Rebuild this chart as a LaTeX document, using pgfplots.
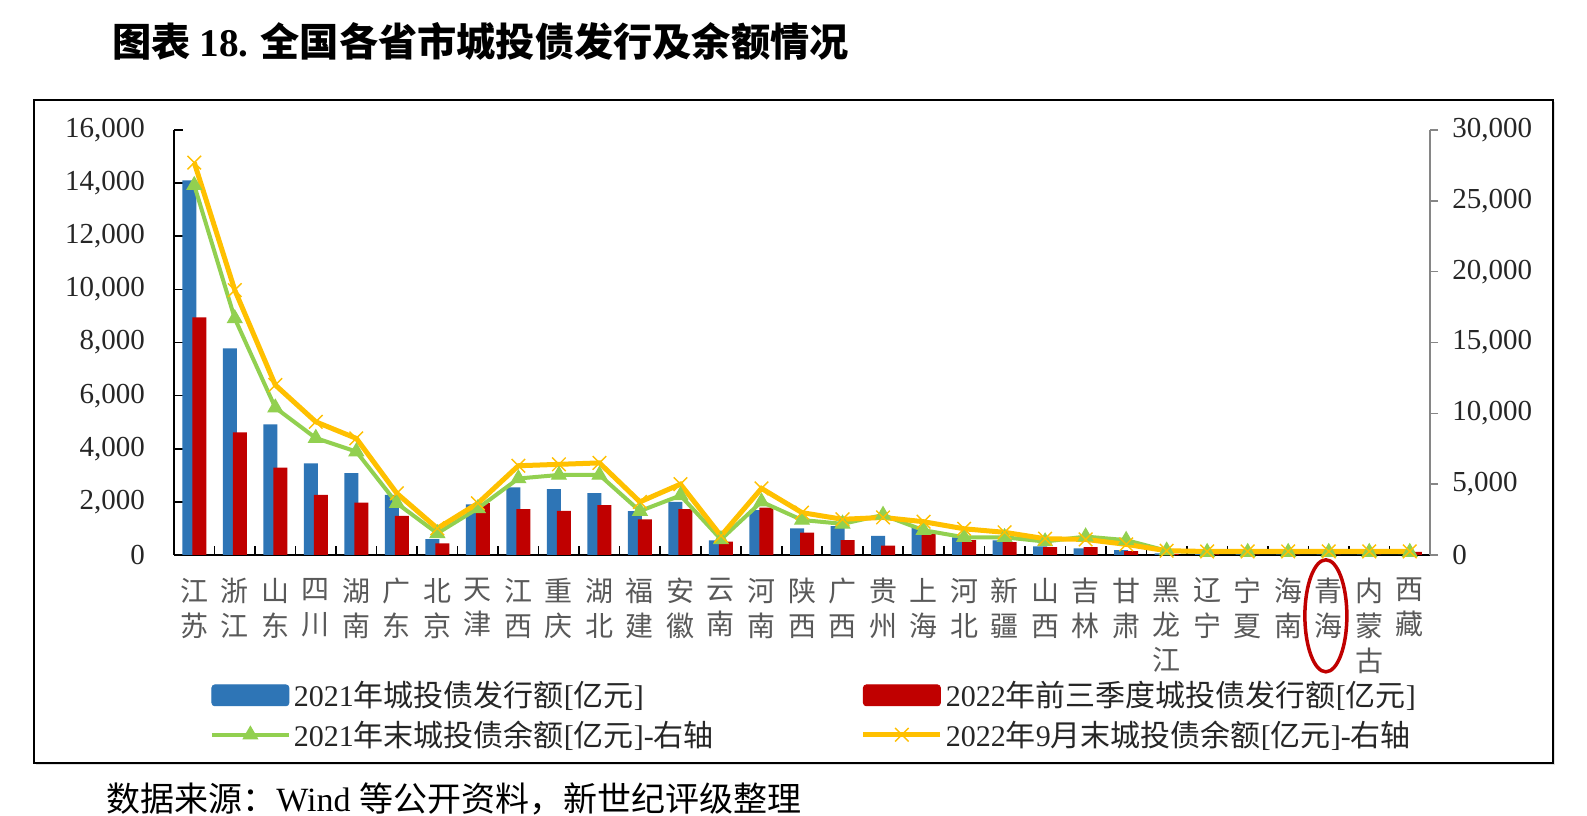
\documentclass[border=0pt]{standalone}
\usepackage{pgfplots}
\usepackage{pgfplotstable}
\pgfplotsset{compat=1.18}
\usepackage{fontspec}
\setmainfont{Liberation Serif}
\newfontfamily\cjk{Noto Sans CJK SC}
\usetikzlibrary{shadows}

\definecolor{barblue}{HTML}{2E75B6}
\definecolor{barred}{HTML}{C00000}
\definecolor{lngreen}{HTML}{92D050}
\definecolor{lnyellow}{HTML}{FFC000}
\definecolor{axgray}{HTML}{868686}
\definecolor{labgray}{HTML}{595959}

\pgfplotsset{
  wide line legend/.style={legend image code/.code={%
    \draw[mark repeat=2,mark phase=2,##1] plot coordinates {(0bp,0bp) (19.25bp,0bp) (38.5bp,0bp)};}},
}

% idx: province order; issue = bond issuance (left axis), bal = outstanding balance (right axis)
\pgfplotstableread{
idx issue21 issue22 bal21 bal22
0  14100 8950 26100 27700
1  7780  4620 16700 18700
2  4920  3290 10400 12000
3  3450  2260 8250  9400
4  3080  1970 7300  8230
5  2260  1470 3650  4350
6  600   440  1530  1880
7  1910  1950 3290  3650
8  2550  1730 5400  6300
9  2480  1660 5650  6400
10 2330  1880 5650  6500
11 1650  1340 3100  3750
12 2000  1730 4200  5000
13 550   500  1100  1350
14 1690  1780 3760  4700
15 1000  840  2470  2990
16 1090  560  2200  2520
17 720   350  2820  2650
18 1050  800  1750  2350
19 660   560  1250  1850
20 550   480  1250  1600
21 320   300  950   1150
22 250   300  1300  1100
23 180   150  1050  750
24 60    40   300   300
25 30    20   200   250
26 20    15   200   250
27 15    10   200   250
28 10    10   200   250
29 10    15   200   250
30 0     120  200   250
}\datatable

\begin{document}
\begin{tikzpicture}
\path[use as bounding box] (0,0) rectangle (793.5bp,408bp);

% outer frame
\draw[black, line width=1bp, fill=white,
      drop shadow={shadow xshift=1.2bp, shadow yshift=-1.2bp, opacity=0.25}]
  (17bp,26.5bp) rectangle (776.5bp,358bp);

% caption and source line
\node[anchor=west, inner sep=0] at (56bp,387.5bp)
  {\cjk\bfseries\fontsize{19.6bp}{22bp}\selectfont 图表 {\rmfamily\bfseries 18.} 全国各省市城投债发行及余额情况};
\node[anchor=west, inner sep=0] at (53bp,8.5bp)
  {\fontsize{17bp}{20bp}\selectfont {\cjk 数据来源：}Wind {\cjk 等公开资料，新世纪评级整理}};

% issuance bars, left axis
\begin{axis}[
  at={(87bp,130.5bp)}, anchor=south west,
  scale only axis, width=628bp, height=212.5bp,
  xmin=-0.5, xmax=30.5, ymin=0, ymax=16000,
  axis y line*=left, axis x line*=bottom,
  x axis line style={black, line width=1.2bp},
  y axis line style={black, line width=0.8bp},
  tick align=inside, major tick length=4.5bp,
  every tick/.style={black, line width=0.8bp},
  ytick={0,2000,...,16000},
  scaled y ticks=false,
  /pgf/number format/assume math mode=true,
  /pgf/number format/1000 sep={,},
  yticklabel style={font=\fontsize{14.5bp}{16bp}\selectfont, text=black!85, xshift=-11bp},
  xtick={-0.5,0.5,...,30.5},
  x tick label as interval,
  xticklabels={{江\\苏},{浙\\江},{山\\东},{四\\川},{湖\\南},{广\\东},{北\\京},{天\\津},{江\\西},{重\\庆},{湖\\北},{福\\建},{安\\徽},{云\\南},{河\\南},{陕\\西},{广\\西},{贵\\州},{上\\海},{河\\北},{新\\疆},{山\\西},{吉\\林},{甘\\肃},{黑\\龙\\江},{辽\\宁},{宁\\夏},{海\\南},{青\\海},{内\\蒙\\古},{西\\藏}},
  xticklabel style={font=\cjk\fontsize{14bp}{17.6bp}\selectfont, text=labgray, align=center, anchor=north, yshift=-8bp},
  clip=false,
]
\addplot[ybar, bar width=7bp, bar shift=-2.5bp, fill=barblue, draw=none] table[x=idx, y=issue21] {\datatable};
\addplot[ybar, bar width=7bp, bar shift=2.5bp, fill=barred, draw=none] table[x=idx, y=issue22] {\datatable};
\draw[barred, line width=1.75bp] (axis cs:27.93,-2290) ellipse [x radius=10.5bp, y radius=28bp];
\end{axis}

% outstanding balance lines, right axis
\begin{axis}[
  at={(87bp,130.5bp)}, anchor=south west,
  scale only axis, width=628bp, height=212.5bp,
  xmin=-0.5, xmax=30.5, ymin=0, ymax=30000,
  axis x line=none, axis y line*=right,
  y axis line style={axgray, line width=0.8bp},
  tick align=outside, major tick length=4bp,
  every tick/.style={axgray, line width=0.8bp},
  ytick={0,5000,...,30000},
  scaled y ticks=false,
  /pgf/number format/assume math mode=true,
  /pgf/number format/1000 sep={,},
  yticklabel style={font=\fontsize{14.5bp}{16bp}\selectfont, text=black!85, xshift=3.7bp},
  legend columns=2,
  legend cell align=left,
  legend style={at={(0.0235,-0.2795)}, anchor=north west, draw=none, fill=none,
    font=\fontsize{15bp}{18bp}\selectfont, text=black!85,
    nodes={inner sep=1.5bp}, row sep=2.5bp},
]
\addlegendimage{legend image code/.code={\fill[barblue, rounded corners=1.5bp] (0bp,-5.25bp) rectangle (38.5bp,5.25bp);}}
\addlegendentry{\makebox[282bp][l]{2021{\cjk 年城投债发行额}[{\cjk 亿元}]}}
\addlegendimage{legend image code/.code={\fill[barred, rounded corners=1.5bp] (0bp,-5.25bp) rectangle (38.5bp,5.25bp);}}
\addlegendentry{2022{\cjk 年前三季度城投债发行额}[{\cjk 亿元}]}
\addplot[lngreen, line width=2bp, mark=triangle*, mark size=4.2bp,
  mark options={line width=0.5bp}, wide line legend]
  table[x=idx, y=bal21] {\datatable};
\addlegendentry{\makebox[282bp][l]{2021{\cjk 年末城投债余额}[{\cjk 亿元}]-{\cjk 右轴}}}
\addplot[lnyellow, line width=2.5bp, mark=x, mark size=4.8bp,
  mark options={line width=0.7bp}, wide line legend]
  table[x=idx, y=bal22] {\datatable};
\addlegendentry{2022{\cjk 年}9{\cjk 月末城投债余额}[{\cjk 亿元}]-{\cjk 右轴}}
\end{axis}
\end{tikzpicture}
\end{document}
